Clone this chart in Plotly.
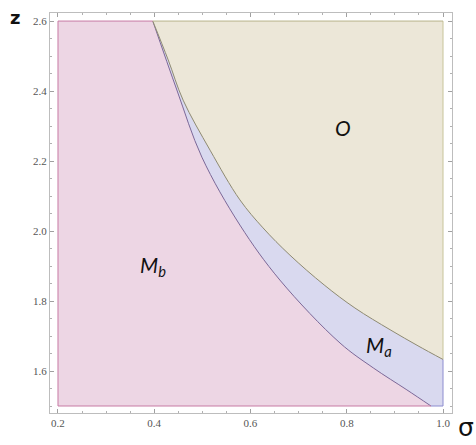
import plotly.graph_objects as go

# boundary between M_b and M_a (sigma, z)
sig_b = [0.397, 0.447, 0.499, 0.578, 0.661, 0.786, 0.855, 0.925, 0.975]
z_b = [2.600, 2.403, 2.211, 2.017, 1.860, 1.680, 1.609, 1.546, 1.500]
# boundary between M_a and O
sig_o = [0.397, 0.429, 0.460, 0.516, 0.578, 0.626, 0.682, 0.753, 0.817, 0.890, 0.948, 1.000]
z_o = [2.600, 2.489, 2.374, 2.231, 2.089, 2.009, 1.931, 1.846, 1.780, 1.718, 1.672, 1.633]

sig_min, sig_max = 0.2, 1.0
z_min, z_max = 1.5, 2.6
x_ticks = [0.2, 0.4, 0.6, 0.8, 1.0]
x_labels = ["0.2", "0.4", "0.6", "0.8", "1.0"]
y_ticks = [1.6, 1.8, 2.0, 2.2, 2.4, 2.6]
y_labels = ["1.6", "1.8", "2.0", "2.2", "2.4", "2.6"]

PINK = "#edd6e4"
BLUE = "#d9d9ef"
OLIVE = "#ece7d8"

fig = go.Figure()

# left edge of M_b region (base for fill), top -> bottom
fig.add_trace(go.Scatter(x=[sig_min, sig_min], y=[z_max, z_min], mode="lines",
                         line=dict(color="#c77aa4", width=1), hoverinfo="skip"))
fig.add_trace(go.Scatter(x=sig_b, y=z_b, mode="lines", fill="tonextx", fillcolor=PINK,
                         line=dict(color="#7c6898", width=1, shape="spline"), hoverinfo="skip"))
# right edge of O region (base for fill), top -> bottom
fig.add_trace(go.Scatter(x=[sig_max, sig_max], y=[z_max, z_o[-1]], mode="lines",
                         line=dict(color="#c8c49a", width=1), hoverinfo="skip"))
fig.add_trace(go.Scatter(x=sig_o, y=z_o, mode="lines", fill="tonextx", fillcolor=OLIVE,
                         line=dict(color="#8e8a72", width=1, shape="spline"), hoverinfo="skip"))
# outer edges
fig.add_trace(go.Scatter(x=[sig_min, sig_b[0]], y=[z_max, z_max], mode="lines",
                         line=dict(color="#c77aa4", width=1), hoverinfo="skip"))
fig.add_trace(go.Scatter(x=[sig_min, sig_b[-1]], y=[z_min, z_min], mode="lines",
                         line=dict(color="#c77aa4", width=1), hoverinfo="skip"))
fig.add_trace(go.Scatter(x=[sig_o[0], sig_max], y=[z_max, z_max], mode="lines",
                         line=dict(color="#b8b38a", width=1), hoverinfo="skip"))
fig.add_trace(go.Scatter(x=[sig_max, sig_max], y=[z_min, z_o[-1]], mode="lines",
                         line=dict(color="#8c8ccf", width=1), hoverinfo="skip"))
fig.add_trace(go.Scatter(x=[sig_b[-1], sig_max], y=[z_min, z_min], mode="lines",
                         line=dict(color="#8c8ccf", width=1), hoverinfo="skip"))

fig.add_shape(type="rect", x0=sig_min, x1=sig_max, y0=z_min, y1=z_max,
              fillcolor=BLUE, line=dict(width=0), layer="below")

lab_font = dict(family="Lato, Open Sans, sans-serif", size=21, color="#111111")
fig.add_annotation(x=0.792, y=2.297, text="<i>O</i>", showarrow=False, font=lab_font)
fig.add_annotation(x=0.397, y=1.9, text="<i>M</i><sub><i>b</i></sub>", showarrow=False, font=lab_font)
fig.add_annotation(x=0.868, y=1.672, text="<i>M</i><sub><i>a</i></sub>", showarrow=False, font=lab_font)

fig.add_annotation(xref="paper", yref="paper", x=-0.087, y=0.99, xanchor="center", yanchor="middle",
                   text="<b>z</b>", showarrow=False,
                   font=dict(family="DejaVu Sans, sans-serif", size=18, color="#111111"))
fig.add_annotation(xref="paper", yref="paper", x=1.035, y=-0.078, xanchor="center", yanchor="bottom",
                   text="σ", showarrow=False,
                   font=dict(family="DejaVu Sans, sans-serif", size=25, color="#111111"))

axis_common = dict(showgrid=False, zeroline=False, showline=True, linecolor="#bdbdbd", linewidth=1,
                   mirror="ticks", ticks="inside", ticklen=4, tickcolor="#a0a0a0",
                   tickfont=dict(family="Liberation Serif, Times New Roman, serif", size=11, color="#555555"),
                   minor=dict(ticks="inside", ticklen=2, tickcolor="#b0b0b0", dtick=0.05, showgrid=False))
fig.update_xaxes(range=[0.1834, 1.0187], tickvals=x_ticks, ticktext=x_labels, **axis_common)
fig.update_yaxes(range=[1.48, 2.623], tickvals=y_ticks, ticktext=y_labels, **axis_common)

fig.update_layout(width=476, height=445, margin=dict(l=50, r=24, t=13, b=32),
                  plot_bgcolor="white", paper_bgcolor="white", showlegend=False)

fig.write_html("out.html")
